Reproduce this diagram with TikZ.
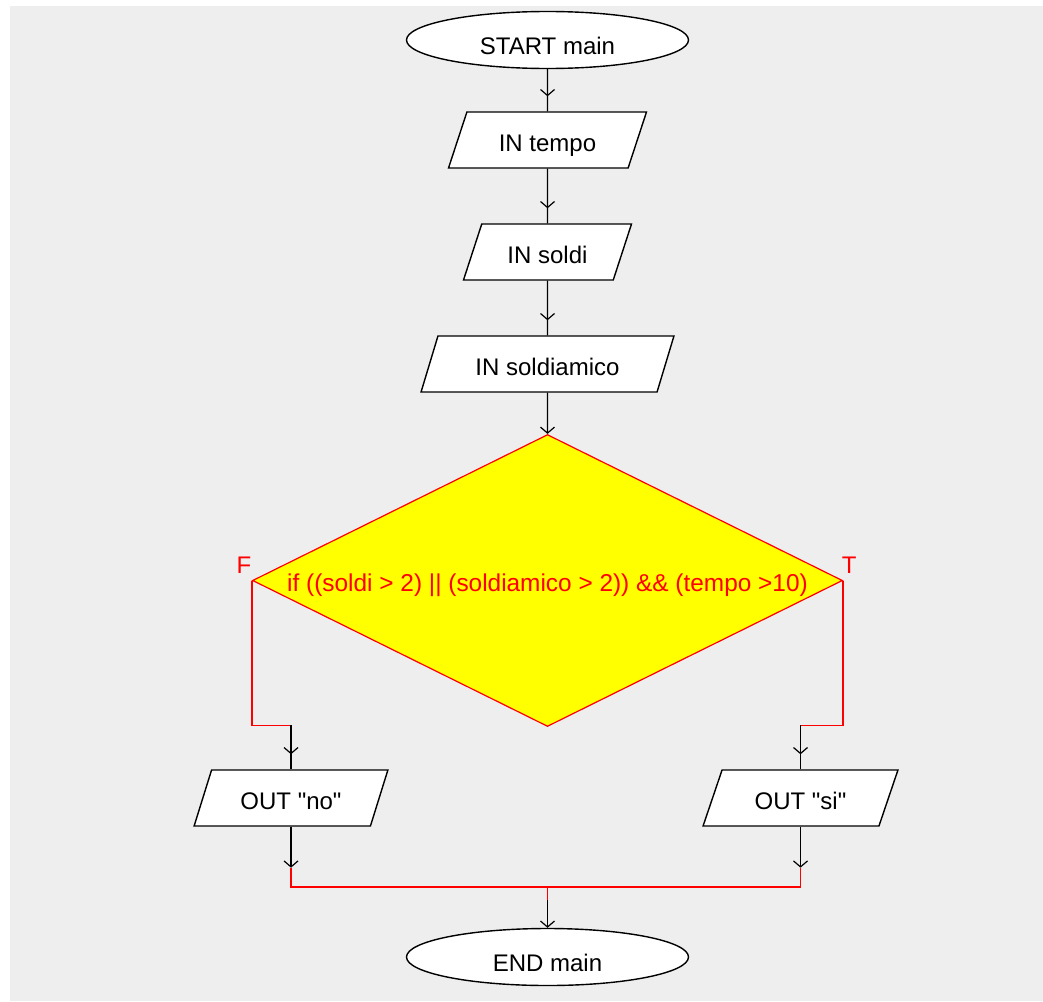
\documentclass[tikz,border=0pt]{standalone}
\usepackage{fontspec}
\setmainfont{Liberation Sans}[Ligatures=TeXOff]
\usetikzlibrary{shapes.geometric,arrows.meta,decorations.markings,calc}

\definecolor{bggray}{HTML}{EEEEEE}
\definecolor{flowred}{HTML}{FF0000}
\definecolor{decyellow}{HTML}{FFFF00}

\begin{document}
\begin{tikzpicture}[x=1pt,y=-1pt,
  every node/.style={font=\fontsize{24}{28}\selectfont, text=black},
  boxtext/.style={text height=22.2pt, text depth=0pt},
  terminal/.style={ellipse, draw, line width=1.4pt, fill=white,
    minimum width=282pt, minimum height=57pt, inner sep=0pt,
    text height=28pt, text depth=0pt},
  io/.style={trapezium, trapezium left angle=63.43, trapezium right angle=116.57,
    trapezium stretches=true, draw, line width=1.4pt, fill=white,
    minimum height=56pt, inner sep=0pt, boxtext},
  decision/.style={diamond, draw=flowred, line width=1.2pt, fill=decyellow,
    minimum width=590pt, minimum height=292pt, inner sep=0pt},
  redtext/.style={text=flowred},
  barb/.tip={Straight Barb[length=6pt,width=14pt,line width=1.2pt]},
  flow/.style={line width=1.4pt, postaction={decorate},
    decoration={markings, mark=at position -15pt with {\arrow{barb}}}},
  flowend/.style={line width=1.4pt, -barb},
  redline/.style={draw=flowred, line width=1.4pt}
]
% canvas
\useasboundingbox (0,0) rectangle (1043,1001);
\fill[white] (0,0) rectangle (1043,1001);
\fill[bggray] (10,6) rectangle (1043,1001);

% blocks
\node[terminal] (start) at (547.5,40) {START main};
\node[io, minimum width=198pt] (tempo) at (547.5,140) {IN tempo};
\node[io, minimum width=168pt] (soldi) at (547.5,252) {IN soldi};
\node[io, minimum width=253pt] (amico) at (547.5,364) {IN soldiamico};
\node[decision] (cond) at (547.5,580.5) {};
\node[redtext, boxtext, font=\fontsize{24.4}{28}\selectfont] (condtext) at (cond.center)
  {if ((soldi > 2) || (soldiamico > 2)) \&\& (tempo >10)};
\node[redtext] (flab) at ($(cond.west)+(-8,-15.5)$) {F};
\node[redtext] (tlab) at ($(cond.east)+(6,-15.5)$) {T};
\node[io, minimum width=194pt] (no) at (291,798) {OUT "no"};
\node[io, minimum width=195pt] (si) at (800.5,798) {OUT "si"};
\node[terminal] (end) at (547.5,957) {END main};

% routing points
\coordinate (fno) at ($(no.north)+(0,-44)$);
\coordinate (fsi) at ($(si.north)+(0,-44)$);
\coordinate (jno) at ($(no.south)+(0,41)$);
\coordinate (jsi) at ($(si.south)+(0,41)$);
\coordinate (jmid) at ($(end.north)+(0,-41)$);
\coordinate (jdrop) at ($(end.north)+(0,-28)$);

% branch and merge lines
\draw[redline] (cond.west) |- (fno);
\draw[redline] (cond.east) |- (fsi);
\draw[redline] (jno) -- (jno |- jmid) -- (jsi |- jmid) -- (jsi);
\draw[redline] (jmid) -- (jdrop);

% flow connectors
\draw[flow] (start.south) -- (tempo.north);
\draw[flow] (tempo.south) -- (soldi.north);
\draw[flow] (soldi.south) -- (amico.north);
\draw[flowend] (amico.south) -- (cond.north);
\draw[flow] (fno) -- (no.north);
\draw[flow] (fsi) -- (si.north);
\draw[flowend] (no.south) -- (jno);
\draw[flowend] (si.south) -- (jsi);
\draw[flowend] (jdrop) -- (end.north);
\end{tikzpicture}
\end{document}
